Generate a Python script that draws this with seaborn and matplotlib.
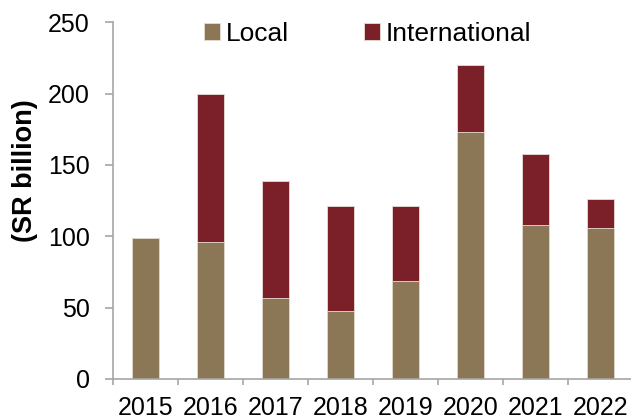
import matplotlib
matplotlib.use("Agg")
import matplotlib.pyplot as plt
from matplotlib.patches import Patch
from matplotlib.ticker import FixedLocator
import numpy as np
import pandas as pd
import seaborn as sns

# Issuance by origin, SR billion
years = ["2015", "2016", "2017", "2018", "2019", "2020", "2021", "2022"]
local = [99, 96, 57, 48, 69, 173, 108, 106]
international = [0, 104, 82, 73, 52, 47, 50, 20]
y_ticks = [0, 50, 100, 150, 200, 250]

LOCAL_C = "#8B7755"
INTL_C = "#7B2028"
AXIS_C = "#A6A6A6"
EDGE_C = "#E6DED4"

sns.set_style("white", rc={"text.color": "black", "axes.labelcolor": "black",
                           "xtick.color": "black", "ytick.color": "black"})
plt.rcParams["font.family"] = ["Liberation Sans", "DejaVu Sans"]

df = pd.DataFrame({
    "year": years,
    "local": local,
    "international": international,
})
df["total"] = df["local"] + df["international"]

fig = plt.figure(figsize=(6.31, 4.20), dpi=100)
ax = fig.add_axes([113 / 631, 41 / 420, 520 / 631, 356.7 / 420])

edge = dict(edgecolor=EDGE_C, linewidth=0.6)
# total height in the international colour, local share drawn over it
sns.barplot(data=df, x="year", y="total", color=INTL_C, saturation=1,
            width=0.43, ax=ax, **edge)
sns.barplot(data=df, x="year", y="local", color=LOCAL_C, saturation=1,
            width=0.43, ax=ax, **edge)

ax.set_xlim(-0.5, len(years) - 0.5)
ax.set_ylim(0, 250)
ax.set_yticks(y_ticks)
ax.set_xlabel("")
ax.set_ylabel("(SR billion)", fontsize=19.5, fontweight="bold", color="black")
ax.yaxis.set_label_coords(-0.144, 0.5845)

for s in ("top", "right"):
    ax.spines[s].set_visible(False)
for s in ("left", "bottom"):
    ax.spines[s].set_color(AXIS_C)
    ax.spines[s].set_linewidth(1.2)

ax.tick_params(axis="y", which="major", direction="out", length=5.8,
               width=1.2, color=AXIS_C, labelsize=18, labelcolor="black",
               pad=11, left=True)
ax.tick_params(axis="x", which="major", length=0, labelsize=18,
               labelcolor="black", pad=12)
ax.xaxis.set_minor_locator(FixedLocator(np.arange(-0.5, len(years), 1.0)))
ax.tick_params(axis="x", which="minor", direction="out", length=4.3,
               width=1.2, color=AXIS_C, bottom=True)

handles = [Patch(facecolor=LOCAL_C, edgecolor=EDGE_C, linewidth=0.6, label="Local"),
           Patch(facecolor=INTL_C, edgecolor=EDGE_C, linewidth=0.6, label="International")]
fig.legend(handles=handles, loc="center left", bbox_to_anchor=(204 / 631, 1 - 34 / 420),
           ncol=2, frameon=False, fontsize=19, handlelength=0.6,
           handleheight=0.58, handletextpad=0.23, columnspacing=2.84,
           borderaxespad=0, borderpad=0, labelcolor="black")

fig.savefig("out.png", dpi=100)
